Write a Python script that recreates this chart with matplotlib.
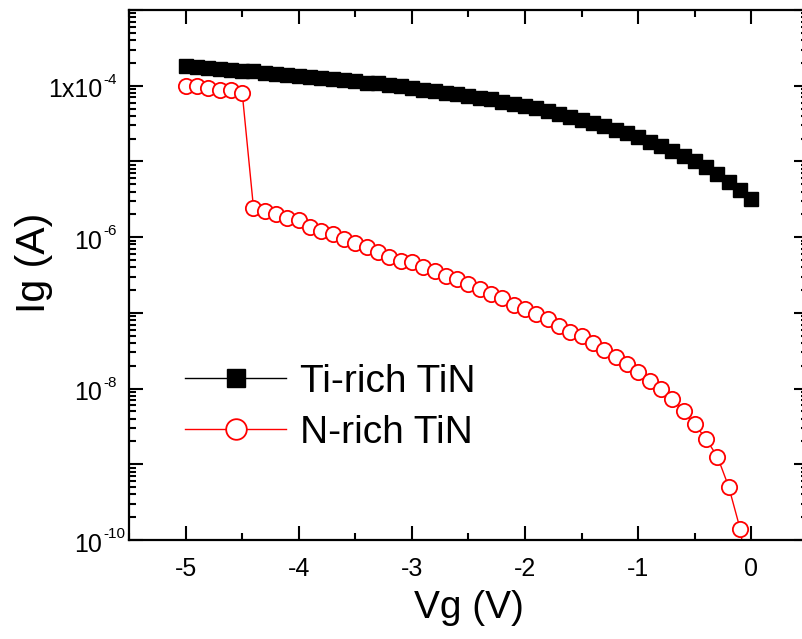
import matplotlib
matplotlib.use("Agg")
import matplotlib.pyplot as plt
import numpy as np
from matplotlib.ticker import LogLocator, FixedLocator, NullFormatter, MultipleLocator

plt.rcParams['font.family'] = ['Liberation Sans', 'DejaVu Sans']

# ---- data ----
vg = [-5.0, -4.9, -4.8, -4.7, -4.6, -4.5, -4.4, -4.3, -4.2, -4.1,
      -4.0, -3.9, -3.8, -3.7, -3.6, -3.5, -3.4, -3.3, -3.2, -3.1,
      -3.0, -2.9, -2.8, -2.7, -2.6, -2.5, -2.4, -2.3, -2.2, -2.1,
      -2.0, -1.9, -1.8, -1.7, -1.6, -1.5, -1.4, -1.3, -1.2, -1.1,
      -1.0, -0.9, -0.8, -0.7, -0.6, -0.5, -0.4, -0.3, -0.2, -0.1, 0.0]

# log10 of gate current (A)
ti_rich_log10 = [-3.74, -3.75, -3.76, -3.78, -3.79, -3.80, -3.81, -3.83, -3.84, -3.86,
                 -3.87, -3.88, -3.90, -3.91, -3.93, -3.94, -3.96, -3.97, -3.99, -4.01,
                 -4.03, -4.05, -4.07, -4.09, -4.11, -4.13, -4.16, -4.18, -4.21, -4.24,
                 -4.27, -4.30, -4.34, -4.37, -4.41, -4.45, -4.49, -4.53, -4.58, -4.63,
                 -4.68, -4.74, -4.80, -4.86, -4.93, -5.00, -5.08, -5.17, -5.27, -5.38, -5.50]

n_rich_log10 = [-4.00, -4.01, -4.03, -4.05, -4.06, -4.09, -5.61, -5.66, -5.69, -5.75,
                -5.77, -5.86, -5.92, -5.96, -6.02, -6.08, -6.13, -6.20, -6.26, -6.31,
                -6.33, -6.39, -6.45, -6.51, -6.55, -6.62, -6.68, -6.75, -6.81, -6.89,
                -6.95, -7.01, -7.08, -7.17, -7.25, -7.31, -7.40, -7.49, -7.58, -7.67,
                -7.78, -7.90, -8.01, -8.14, -8.30, -8.47, -8.67, -8.90, -9.30, -9.85, -10.80]

series_labels = ["Ti-rich TiN", "N-rich TiN"]
ytick_values = [1e-10, 1e-8, 1e-6, 1e-4]
ytick_bases = ["10", "10", "10", "1x10"]
ytick_exponents = ["-10", "-8", "-6", "-4"]
xtick_values = [-5, -4, -3, -2, -1, 0]

ti_rich = 10.0 ** np.array(ti_rich_log10)
n_rich = 10.0 ** np.array(n_rich_log10)

W, H = 802, 639
fig = plt.figure(figsize=(W / 100, H / 100), dpi=100)
left, right, top, bottom = 129, 808, 10, 540
ax = fig.add_axes([left / W, 1 - bottom / H, (right - left) / W, (bottom - top) / H])

ax.plot(vg, ti_rich, color='black', lw=1.0, marker='s', markersize=10,
        markerfacecolor='black', markeredgecolor='black', label=series_labels[0])
ax.plot(vg, n_rich, color='red', lw=1.0, marker='o', markersize=11,
        markerfacecolor='white', markeredgecolor='red', markeredgewidth=1.3,
        label=series_labels[1])

ax.set_yscale('log')
ax.set_xlim(-5.5, 0.5)
ax.set_ylim(1e-10, 1e-3)

ax.xaxis.set_major_locator(FixedLocator(xtick_values))
ax.xaxis.set_minor_locator(MultipleLocator(0.5))
ax.set_xticklabels([str(v) for v in xtick_values])

ax.yaxis.set_major_locator(LogLocator(base=10, numticks=20))
ax.yaxis.set_minor_locator(LogLocator(base=10, subs=np.arange(2, 10), numticks=20))
ax.yaxis.set_minor_formatter(NullFormatter())
ax.yaxis.set_major_formatter(NullFormatter())

px = 0.72  # points per pixel at 100 dpi
ytr = ax.get_yaxis_transform()
for v, base, exp in zip(ytick_values, ytick_bases, ytick_exponents):
    ax.annotate(base, xy=(0, v), xycoords=ytr, xytext=(-27 * px, -11.7 * px),
                textcoords='offset points', ha='right', va='baseline',
                fontsize=18, annotation_clip=False)
    ax.annotate(exp, xy=(0, v), xycoords=ytr, xytext=(-26 * px, 1.7 * px),
                textcoords='offset points', ha='left', va='baseline',
                fontsize=11, annotation_clip=False)

for s in ax.spines.values():
    s.set_linewidth(1.6)
ax.tick_params(which='both', direction='in', top=True, right=True, width=1.5)
ax.tick_params(which='major', length=10, labelsize=18, pad=12)
ax.tick_params(which='minor', length=5)

ax.set_xlabel('Vg (V)', fontsize=28, labelpad=7)
fig.text(34 / W, 1 - 263 / H, 'Ig (A)', rotation=90, ha='center', va='center', fontsize=29.5)

leg = ax.legend(loc='upper left', bbox_to_anchor=(185 / W, 1 - 364 / H),
                bbox_transform=fig.transFigure, frameon=False, fontsize=28,
                handlelength=2.6, handletextpad=0.35, labelspacing=0.38,
                borderpad=0, borderaxespad=0, markerscale=1.35)

fig.savefig('out.png', dpi=100)
